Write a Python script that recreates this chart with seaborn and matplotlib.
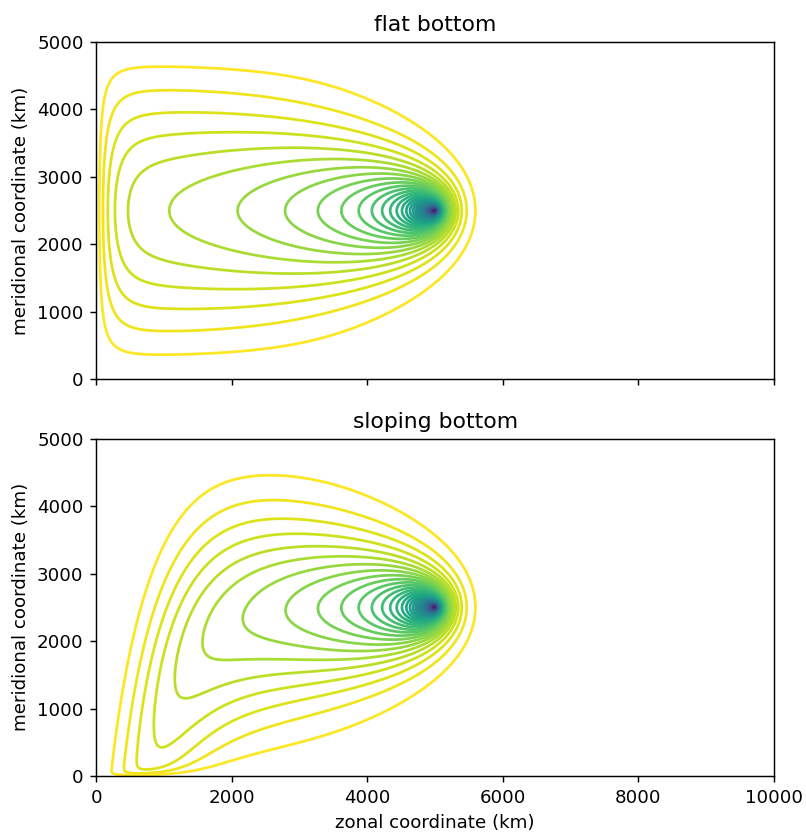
import numpy as np
import matplotlib
matplotlib.use("Agg")
import matplotlib.pyplot as plt
import seaborn as sns

# basin (km) and forcing
basin_x = [0.0, 10000.0]
basin_y = [0.0, 5000.0]
source_xy = [5000.0, 2500.0]
source_radius = 33.0         # km, width of the forcing patch
stommel_width = 220.0        # r / beta (km), width of the western boundary layer
# sloping bottom: topographic / planetary beta ratio, largest at the western wall
slope_ratio_wall = 20.0
slope_scale = 500.0          # km
n_levels = 40
panel_titles = ["flat bottom", "sloping bottom"]
grid_n = [256, 240]


def solve_streamfunction(ratio):
    # lap(psi) + (psi_x + ratio(x) psi_y) / delta = forcing, psi = 0 on walls
    nx, ny = grid_n
    x = np.linspace(basin_x[0], basin_x[1], nx + 1)
    y = np.linspace(basin_y[0], basin_y[1], ny + 1)
    dx, dy = x[1] - x[0], y[1] - y[0]
    m = ny - 1
    lo = 1 / dx**2 - 1 / (2 * dx * stommel_width)
    up = 1 / dx**2 + 1 / (2 * dx * stommel_width)
    gx, gy = np.meshgrid(x, y)
    force = np.exp(-((gx - source_xy[0])**2 + (gy - source_xy[1])**2) / (2 * source_radius**2))
    force /= force.sum() * dx * dy

    inv_m = []
    fp = []
    prev_inv = None
    prev_f = np.zeros(m)
    k = np.arange(m)
    for i in range(1, nx):
        r = ratio(x[i])
        d = np.zeros((m, m))
        d[k, k] = -2 / dx**2 - 2 / dy**2
        d[k[:-1], k[:-1] + 1] = 1 / dy**2 + r / (2 * dy * stommel_width)
        d[k[1:], k[1:] - 1] = 1 / dy**2 - r / (2 * dy * stommel_width)
        f = force[1:-1, i].copy()
        if prev_inv is not None:
            d = d - lo * up * prev_inv
            f = f - lo * prev_f
        inv = np.linalg.inv(d)
        ff = inv @ f
        inv_m.append(inv)
        fp.append(ff)
        prev_inv, prev_f = inv, ff

    psi = np.zeros((ny + 1, nx + 1))
    col = fp[-1]
    psi[1:-1, nx - 1] = col
    for n in range(len(fp) - 2, -1, -1):
        col = fp[n] - up * (inv_m[n] @ col)
        psi[1:-1, n + 1] = col
    return x, y, psi


def flat(xx):
    return 0.0


def sloping(xx):
    return slope_ratio_wall * np.exp(-xx / slope_scale)


fig, axes = plt.subplots(2, 1, sharex=True, figsize=(806 / 131, 837 / 131), dpi=131)
fig.subplots_adjust(left=0.1195, right=0.9603, top=0.9498, bottom=0.0729, hspace=0.176)
cmap = sns.color_palette("viridis", as_cmap=True)

for ax, title, ratio in zip(axes, panel_titles, [flat, sloping]):
    x, y, psi = solve_streamfunction(ratio)
    levels = np.linspace(psi.min(), 0, n_levels + 1)[:-1]
    ax.contour(x, y, psi, levels=levels, cmap=cmap)
    ax.set_title(title)
    ax.set_ylabel("meridional coordinate (km)")
    ax.set_xlim(basin_x)
    ax.set_ylim(basin_y)

axes[1].set_xlabel("zonal coordinate (km)")
fig.savefig("out.png", dpi=131)
